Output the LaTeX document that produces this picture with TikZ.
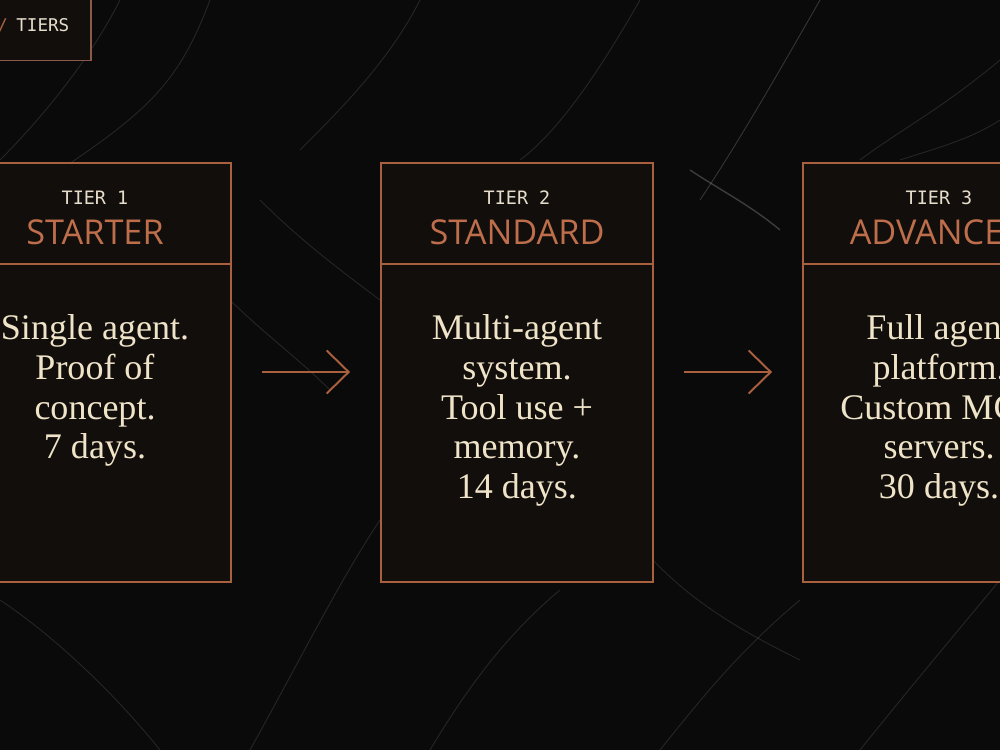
\documentclass[tikz,border=0pt]{standalone}
\usepackage{fontspec}
\setmainfont{Liberation Serif}
\newfontfamily\titlefont{Open Sans}
\newfontfamily\monofont{DejaVu Sans Mono}
\usetikzlibrary{arrows.meta}
\definecolor{bgc}{HTML}{0B0A0A}
\definecolor{boxfill}{HTML}{110E0C}
\definecolor{edge}{HTML}{A9603F}
\definecolor{titlec}{HTML}{BE6E4B}
\definecolor{labelc}{HTML}{E6DDCB}
\definecolor{bodyc}{HTML}{F0E4C8}
\definecolor{tagedge}{HTML}{8B5A4A}
\definecolor{streak}{HTML}{9A9A96}
\tikzset{
  tierbox/.style={draw=edge, line width=1.1pt, fill=boxfill, minimum width=5.44cm, minimum height=8.38cm, inner sep=0pt},
  tierlabel/.style={font=\monofont\fontsize{10.5}{12}\selectfont, text=labelc, inner sep=0pt},
  tiertitle/.style={font=\titlefont\fontsize{19.5}{22}\selectfont, text=titlec, inner sep=0pt},
  tierbody/.style={font=\fontsize{20.5}{22.7}\selectfont, text=bodyc, align=center, inner sep=0pt, anchor=north},
  flow/.style={draw=edge, line width=1.1pt, -{Straight Barb[length=0.44cm, width=0.86cm, line width=1.1pt]}, shorten <=0.6cm, shorten >=0.6cm},
  vein/.style={draw=streak, line width=0.5pt, opacity=0.2},
  divider/.style={draw=edge, line width=1.1pt}
}
\begin{document}
\begin{tikzpicture}[x=0.02cm, y=-0.02cm]
\useasboundingbox (0,0) rectangle (1000,750);
\clip (0,0) rectangle (1000,750);
\fill[bgc] (0,0) rectangle (1000,750);
% marble veins
\draw[vein] (120,0) .. controls (90,60) and (40,120) .. (0,160);
\draw[vein] (210,0) .. controls (180,80) and (150,110) .. (60,170);
\draw[vein] (420,0) .. controls (390,60) and (340,110) .. (300,150);
\draw[vein] (640,0) .. controls (600,70) and (560,130) .. (520,160);
\draw[vein, opacity=0.3] (820,0) .. controls (780,70) and (740,140) .. (700,200);
\draw[vein, opacity=0.35, line width=0.8pt] (690,170) .. controls (720,190) and (750,205) .. (780,230);
\draw[vein] (1000,60) .. controls (940,110) and (900,130) .. (860,160);
\draw[vein] (1000,120) .. controls (970,140) and (930,150) .. (900,160);
\draw[vein] (380,520) .. controls (340,580) and (300,660) .. (250,750);
\draw[vein] (560,590) .. controls (500,640) and (460,700) .. (430,750);
\draw[vein] (800,600) .. controls (740,650) and (700,700) .. (660,750);
\draw[vein] (1000,580) .. controls (950,640) and (900,700) .. (860,750);
\draw[vein] (230,300) .. controls (260,330) and (300,360) .. (330,390);
\draw[vein] (653,560) .. controls (700,610) and (760,640) .. (800,660);
\draw[vein] (0,600) .. controls (60,640) and (120,700) .. (160,750);
\draw[vein] (260,200) .. controls (300,240) and (340,270) .. (380,300);
% tag box
\node[draw=tagedge, line width=1pt, fill=boxfill, minimum width=2.52cm, minimum height=1.62cm, inner sep=0pt] (tag) at (28,20) {};
\node[font=\monofont\fontsize{10}{12}\selectfont, text=edge, anchor=base west, inner sep=0pt] (slash) at (-3,32) {/};
\node[font=\monofont\fontsize{10}{12}\selectfont, text=labelc, anchor=base west, inner sep=0pt] (tagtext) at (16,32) {TIERS};
% boxes
\node[tierbox] (b1) at (95,372.5) {};
\node[tierbox] (b2) at (517,372.5) {};
\node[tierbox] (b3) at (939,372.5) {};
\foreach \b in {b1,b2,b3}{
  \draw[divider] ([yshift=-2.04cm]\b.north west) -- ([yshift=-2.04cm]\b.north east);
}
% headers
\node[tierlabel] (l1) at (95,198) {TIER 1};
\node[tierlabel] (l2) at (517,198) {TIER 2};
\node[tierlabel] (l3) at (939,198) {TIER 3};
\node[tiertitle] (t1) at (95,232) {STARTER};
\node[tiertitle] (t2) at (517,232) {STANDARD};
\node[tiertitle] (t3) at (939,232) {ADVANCED};
% bodies
\node[tierbody] (d1) at (95,314) {Single agent.\\Proof of\\concept.\\7 days.};
\node[tierbody] (d2) at (517,314) {Multi-agent\\system.\\Tool use +\\memory.\\14 days.};
\node[tierbody] (d3) at (939,314) {Full agent\\platform.\\Custom MCP\\servers.\\30 days.};
% arrows
\draw[flow] (b1.east |- 0,372) -- (b2.west |- 0,372);
\draw[flow] (b2.east |- 0,372) -- (b3.west |- 0,372);
\end{tikzpicture}
\end{document}
